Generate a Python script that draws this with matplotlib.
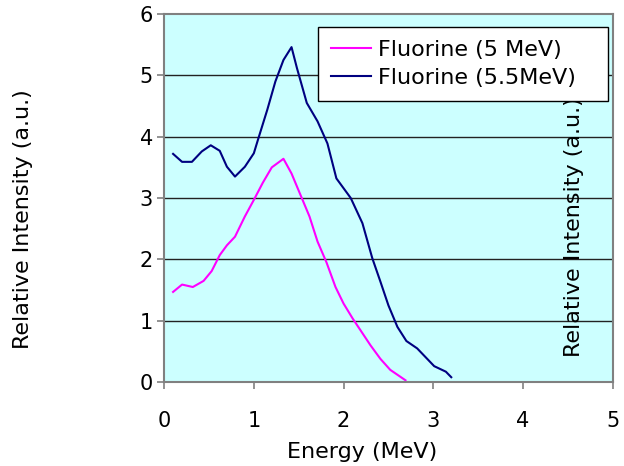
import matplotlib.pyplot as plt

# Fluorine 5 MeV
e_5 = [0.1, 0.2, 0.32, 0.44, 0.53, 0.62, 0.7, 0.79, 0.9, 1.0, 1.1, 1.2, 1.33,
       1.42, 1.52, 1.62, 1.71, 1.81, 1.91, 2.0, 2.1, 2.2, 2.3, 2.41, 2.52, 2.69]
i_5 = [1.47, 1.59, 1.55, 1.65, 1.81, 2.07, 2.23, 2.37, 2.7, 2.97, 3.25, 3.5, 3.64,
       3.4, 3.05, 2.7, 2.29, 1.95, 1.55, 1.28, 1.04, 0.82, 0.6, 0.38, 0.2, 0.03]

# Fluorine 5.5 MeV
e_55 = [0.1, 0.2, 0.31, 0.42, 0.52, 0.62, 0.7, 0.79, 0.9, 1.0, 1.05, 1.15, 1.24,
        1.33, 1.42, 1.48, 1.59, 1.71, 1.82, 1.92, 2.08, 2.21, 2.32, 2.41, 2.5,
        2.6, 2.7, 2.82, 3.01, 3.14, 3.2]
i_55 = [3.72, 3.59, 3.59, 3.76, 3.86, 3.77, 3.51, 3.35, 3.51, 3.73, 3.97, 4.44, 4.9,
        5.25, 5.46, 5.12, 4.55, 4.25, 3.89, 3.32, 3.0, 2.59, 2.02, 1.64, 1.25,
        0.9, 0.67, 0.55, 0.26, 0.17, 0.08]

labels = ['Fluorine (5 MeV)', 'Fluorine (5.5MeV)']

fig = plt.figure(figsize=(6.24, 4.66), dpi=100)
ax = fig.add_axes([0.263, 0.180, 0.719, 0.790])
ax.set_facecolor('#CCFFFF')

ax.plot(e_5, i_5, color='#FF00FF', lw=1.5, label=labels[0])
ax.plot(e_55, i_55, color='#000080', lw=1.5, label=labels[1])

ax.set_xlim(0, 5)
ax.set_ylim(0, 6)
ax.set_xticks(range(6))
ax.set_yticks(range(7))
for y in range(1, 6):
    ax.axhline(y, color='#222222', lw=1, zorder=1)

for s in ax.spines.values():
    s.set_color('#808080')
    s.set_linewidth(1.5)
ax.tick_params(direction='out', length=5, width=1.2, color='#808080',
               labelsize=15)
ax.tick_params(axis='x', pad=16)
ax.tick_params(axis='y', pad=3)

ax.set_xlabel('Energy (MeV)', fontsize=16)
ax.xaxis.set_label_coords(0.441, -0.163)
ax.set_ylabel('Relative Intensity (a.u.)', fontsize=16)
ax.yaxis.set_label_coords(-0.292, 0.443)
ax.text(4.57, 0.41, 'Relative Intensity (a.u.)', rotation=90, fontsize=16,
        ha='center', va='bottom')

leg = ax.legend(loc='upper left', bbox_to_anchor=(0.343, 0.5, 0.646, 0.465),
                mode='expand', fontsize=16, fancybox=False, edgecolor='black',
                framealpha=1, borderaxespad=0, handlelength=1.8,
                handletextpad=0.3, labelspacing=0.35, borderpad=0.6)
leg.get_frame().set_linewidth(1)

fig.savefig('out.png')
